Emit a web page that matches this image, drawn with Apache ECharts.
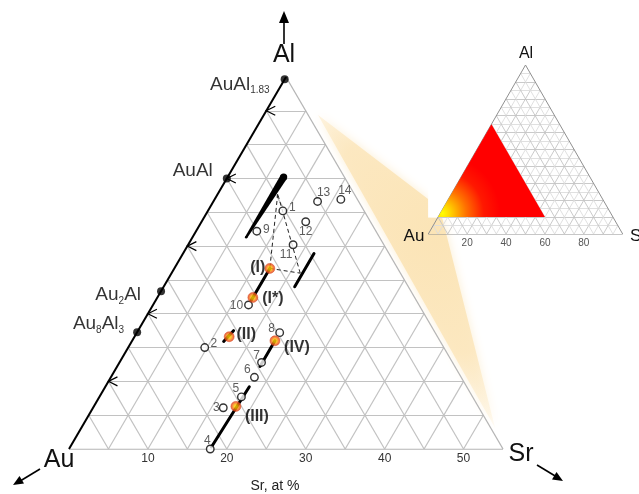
<!DOCTYPE html>
<html>
<head>
<meta charset="utf-8">
<script src="https://cdn.jsdelivr.net/npm/echarts@6/dist/echarts.min.js"></script>
<style>
  html, body { margin: 0; padding: 0; background: #fff; }
  #c { width: 639px; height: 494px; }
</style>
</head>
<body>
<div id="c"></div>
<script>
// ---- Au–Al–Sr section: Sr 0..55 at.%, Al 10..65 at.% ----
const MAIN_AL0 = 10;
const MAIN_SPAN = 55;
const GRID_STEP = 5;
const srTicks = [10, 20, 30, 40, 50];
const insetTicks = [20, 40, 60, 80];
const arrowAl = [20, 30, 40, 50, 60];

// binary Au–Al compounds on the Au–Al edge
const compoundNames = ['AuAl{s|1.83}', 'AuAl', 'Au{s|2}Al', 'Au{s|8}Al{s|3}'];
const compoundAl = [64.66, 50, 33.33, 27.27];

// numbered alloy samples
const sampleNames = ['1', '2', '3', '4', '5', '6', '7', '8', '9', '10', '11', '12', '13', '14'];
const sampleSr = [9.5, 9.7, 16.5, 17.9, 18.0, 18.2, 18.0, 18.1, 7.7, 12.1, 13.3, 13.2, 13.2, 16.0];
const sampleAl = [45.2, 25.0, 16.1, 10.0, 17.7, 20.6, 22.8, 27.2, 42.2, 31.3, 40.2, 43.6, 46.6, 46.9];

// ternary phases
const phaseNames = ['(I)', '(I*)', '(II)', '(III)', '(IV)'];
const phaseSr = [12.1, 12.1, 12.0, 18.0, 18.1];
const phaseAl = [36.7, 32.4, 26.6, 16.3, 26.0];

// homogeneity ranges: start (Sr, Al) -> end (Sr, Al)
const rangeSrA = [16.6, 12.1, 11.65, 18.1, 17.9];
const rangeAlA = [34.0, 32.0, 25.9, 22.2, 10.3];
const rangeSrB = [16.6, 12.1, 12.1, 18.1, 18.25];
const rangeAlB = [38.9, 36.7, 27.5, 26.0, 19.2];

// wedge-shaped range (thin at low Al, thick at high Al)
const taperSr = [6.8, 7.1];
const taperAl = [41.3, 50.2];

// three-phase tie triangle
const tieSr = [7.6, 12.1, 16.3];
const tieAl = [47.7, 36.7, 36.0];

// region of the full diagram shown enlarged: Sr 0..55, Al 10..65
const zoomSr = [0, 55, 0];
const zoomAl = [10, 10, 65];

const FONT = '"Liberation Sans", Arial, Helvetica, sans-serif';
const H = Math.sqrt(3) / 2;
const GREY = '#c2c2c2';

function mainXY(sr, al) { const a = al - MAIN_AL0; return [sr + a / 2, a * H]; }
function insetXY(sr, al) { return [sr + al / 2, al * H]; }

// triangular grid lines of the section
const mainGrid = [];
for (let k = GRID_STEP; k < MAIN_SPAN; k += GRID_STEP) {
  mainGrid.push({ coords: [mainXY(0, MAIN_AL0 + k), mainXY(MAIN_SPAN - k, MAIN_AL0 + k)] });
  mainGrid.push({ coords: [mainXY(k, MAIN_AL0), mainXY(k, MAIN_AL0 + MAIN_SPAN - k)] });
  mainGrid.push({ coords: [mainXY(k, MAIN_AL0), mainXY(0, MAIN_AL0 + k)] });
}
const mainEdgesGrey = [
  { coords: [mainXY(0, MAIN_AL0), mainXY(MAIN_SPAN, MAIN_AL0)] },
  { coords: [mainXY(MAIN_SPAN, MAIN_AL0), mainXY(0, MAIN_AL0 + MAIN_SPAN)] }
];
const mainEdgeLeft = [{ coords: [mainXY(0, MAIN_AL0), mainXY(0, MAIN_AL0 + MAIN_SPAN)] }];

// grid of the full ternary
const insetGrid = [];
for (let k = 5; k < 100; k += 5) {
  const ls = { color: k % 10 ? '#dddddd' : '#c4c4c4' };
  insetGrid.push({ coords: [insetXY(0, k), insetXY(100 - k, k)], lineStyle: ls });
  insetGrid.push({ coords: [insetXY(k, 0), insetXY(k, 100 - k)], lineStyle: ls });
  insetGrid.push({ coords: [insetXY(k, 0), insetXY(0, k)], lineStyle: ls });
}
const insetEdges = [
  { coords: [insetXY(0, 0), insetXY(100, 0)] },
  { coords: [insetXY(100, 0), insetXY(0, 100)] },
  { coords: [insetXY(0, 100), insetXY(0, 0)] }
];

// soft beam linking the section to its place in the full diagram (section units)
const beamX = [31.56, 45.5, 45.5, 47.3, 54.0];
const beamY = [42.76, 32.0, 29.58, 29.58, 2.69];

const sampleOffsets = [[9.5, -3.5], [9, -3.5], [-7, 0], [-3, -8], [-5.5, -8], [-7, -8], [-5, -7],
  [-8, -4], [9.5, -1.5], [-12, 1], [-7, 10], [0, 10], [6, -9], [4, -9]];
const phaseOffsets = [[-12, -1], [20, 1], [17, -2.5], [21, 10], [22, 7]];
const compoundLabelPos = [
  { distance: 11, offset: [0, 5] },
  { distance: 10, offset: [0, -8] },
  { distance: 16, offset: [0, 4] },
  { distance: 9, offset: [0, -8] }
];

const chart = echarts.init(document.getElementById('c'), null, { renderer: 'canvas' });

const phaseFill = {
  type: 'radial', x: 0.5, y: 0.5, r: 0.5,
  colorStops: [
    { offset: 0, color: '#ffe600' },
    { offset: 0.4, color: '#ffb000' },
    { offset: 0.75, color: '#f0561a' },
    { offset: 1, color: '#d9401c' }
  ]
};

const option = {
  animation: false,
  backgroundColor: '#fff',
  grid: [
    { left: 69, top: 77, width: 434, height: 372 },
    { left: 428.3, top: 65, width: 194.4, height: 169 }
  ],
  xAxis: [
    {
      gridIndex: 0, type: 'value', min: 0, max: MAIN_SPAN, interval: 10,
      axisLine: { show: false }, axisTick: { show: false }, splitLine: { show: false },
      axisLabel: {
        margin: 4, color: '#333', fontSize: 12, fontFamily: FONT,
        formatter: v => (srTicks.indexOf(v) >= 0 ? String(v) : '')
      }
    },
    {
      gridIndex: 1, type: 'value', min: 0, max: 100, interval: 20,
      axisLine: { show: false }, axisTick: { show: false }, splitLine: { show: false },
      axisLabel: {
        margin: 4, color: '#555', fontSize: 10, fontFamily: FONT,
        formatter: v => (insetTicks.indexOf(v) >= 0 ? String(v) : '')
      }
    }
  ],
  yAxis: [
    { gridIndex: 0, type: 'value', min: 0, max: MAIN_SPAN * H, show: false },
    { gridIndex: 1, type: 'value', min: 0, max: 100 * H, show: false }
  ],
  series: [
    // beam
    {
      type: 'custom', xAxisIndex: 0, yAxisIndex: 0, z: 1, silent: true,
      data: [[beamX[0], beamY[0]]],
      renderItem: (params, api) => {
        const pts = beamX.map((x, i) => api.coord([x, beamY[i]]));
        return {
          type: 'polygon', shape: { points: pts },
          style: {
            fill: {
              type: 'radial', x: 0.68, y: 0.38, r: 1.25,
              colorStops: [
                { offset: 0, color: 'rgba(251,228,182,1)' },
                { offset: 0.55, color: 'rgba(252,231,190,0.9)' },
                { offset: 0.85, color: 'rgba(253,238,208,0.45)' },
                { offset: 1, color: 'rgba(255,246,228,0)' }
              ]
            },
            shadowBlur: 10, shadowColor: 'rgba(251,230,188,0.7)'
          }
        };
      }
    },
    // white backing of the full diagram
    {
      type: 'custom', xAxisIndex: 1, yAxisIndex: 1, z: 2, silent: true,
      data: [[0, 10 * H]],
      renderItem: (params, api) => {
        const a = api.coord([0, 92]);
        const b = api.coord([110, api.value(1)]);
        return { type: 'rect', shape: { x: a[0], y: a[1], width: b[0] - a[0], height: b[1] - a[1] }, style: { fill: '#fff' } };
      }
    },
    // full diagram grid
    {
      type: 'lines', coordinateSystem: 'cartesian2d', xAxisIndex: 1, yAxisIndex: 1, z: 3, silent: true,
      lineStyle: { width: 0.9, opacity: 1 }, data: insetGrid
    },
    {
      type: 'lines', coordinateSystem: 'cartesian2d', xAxisIndex: 1, yAxisIndex: 1, z: 4, silent: true,
      lineStyle: { width: 1, color: '#8f8f8f', opacity: 1 }, data: insetEdges
    },
    // enlarged region
    {
      type: 'custom', xAxisIndex: 1, yAxisIndex: 1, z: 5, silent: true,
      data: zoomSr.map((s, i) => insetXY(s, zoomAl[i])),
      renderItem: (params, api) => {
        if (params.dataIndex !== 0) return null;
        const pts = zoomSr.map((s, i) => api.coord(insetXY(s, zoomAl[i])));
        return {
          type: 'polygon', shape: { points: pts },
          style: {
            fill: {
              type: 'radial', x: 0.04, y: 0.96, r: 0.62,
              colorStops: [
                { offset: 0, color: '#ffff00' },
                { offset: 0.14, color: '#ffd400' },
                { offset: 0.42, color: '#ff7000' },
                { offset: 0.72, color: '#ff1800' },
                { offset: 1, color: '#ff0000' }
              ]
            }
          }
        };
      }
    },
    // section grid
    {
      type: 'lines', coordinateSystem: 'cartesian2d', xAxisIndex: 0, yAxisIndex: 0, z: 3, silent: true,
      lineStyle: { width: 1.2, color: GREY, opacity: 1 }, data: mainGrid
    },
    {
      type: 'lines', coordinateSystem: 'cartesian2d', xAxisIndex: 0, yAxisIndex: 0, z: 4, silent: true,
      lineStyle: { width: 1.3, color: '#b5b5b5', opacity: 1 }, data: mainEdgesGrey
    },
    {
      type: 'lines', coordinateSystem: 'cartesian2d', xAxisIndex: 0, yAxisIndex: 0, z: 5, silent: true,
      lineStyle: { width: 2, color: '#000', opacity: 1 }, data: mainEdgeLeft
    },
    // reading arrows on the Al axis
    {
      type: 'custom', xAxisIndex: 0, yAxisIndex: 0, z: 5, silent: true,
      data: arrowAl.map(al => mainXY(0, al)),
      renderItem: (params, api) => {
        const p = api.coord([api.value(0), api.value(1)]);
        return {
          type: 'polyline',
          shape: { points: [[p[0] + 9, p[1] - 4.5], [p[0], p[1]], [p[0] + 9, p[1] + 4.5]] },
          style: { stroke: '#000', lineWidth: 1.2, fill: null }
        };
      }
    },
    // tie triangle
    {
      type: 'lines', coordinateSystem: 'cartesian2d', xAxisIndex: 0, yAxisIndex: 0, z: 6, silent: true,
      lineStyle: { width: 1, color: '#222', type: [4, 3], opacity: 1 },
      data: [0, 1, 2].map(i => ({ coords: [mainXY(tieSr[i], tieAl[i]), mainXY(tieSr[(i + 1) % 3], tieAl[(i + 1) % 3])] }))
    },
    // homogeneity ranges
    {
      type: 'lines', coordinateSystem: 'cartesian2d', xAxisIndex: 0, yAxisIndex: 0, z: 7, silent: true,
      lineStyle: { width: 3, color: '#000', opacity: 1, cap: 'round' },
      data: rangeSrA.map((s, i) => ({ coords: [mainXY(s, rangeAlA[i]), mainXY(rangeSrB[i], rangeAlB[i])] }))
    },
    {
      type: 'custom', xAxisIndex: 0, yAxisIndex: 0, z: 7, silent: true,
      data: [[...mainXY(taperSr[0], taperAl[0]), ...mainXY(taperSr[1], taperAl[1])]],
      renderItem: (params, api) => {
        const p0 = api.coord([api.value(0), api.value(1)]);
        const p1 = api.coord([api.value(2), api.value(3)]);
        const dx = p1[0] - p0[0], dy = p1[1] - p0[1], L = Math.hypot(dx, dy);
        const nx = -dy / L, ny = dx / L;
        const w0 = 1.2, w1 = 3.6;
        return {
          type: 'group', children: [
            { type: 'polygon', shape: { points: [[p0[0] + nx * w0, p0[1] + ny * w0], [p1[0] + nx * w1, p1[1] + ny * w1], [p1[0] - nx * w1, p1[1] - ny * w1], [p0[0] - nx * w0, p0[1] - ny * w0]] }, style: { fill: '#000' } },
            { type: 'circle', shape: { cx: p1[0], cy: p1[1], r: w1 }, style: { fill: '#000' } },
            { type: 'circle', shape: { cx: p0[0], cy: p0[1], r: w0 }, style: { fill: '#000' } }
          ]
        };
      }
    },
    // compounds
    {
      type: 'scatter', xAxisIndex: 0, yAxisIndex: 0, z: 8, symbol: 'circle', symbolSize: 8,
      itemStyle: { color: '#000' },
      data: compoundNames.map((n, i) => ({
        value: mainXY(0, compoundAl[i]), name: n,
        label: { distance: compoundLabelPos[i].distance, offset: compoundLabelPos[i].offset }
      })),
      label: {
        show: true, position: 'left', formatter: '{b}',
        color: '#000', fontSize: 19, fontFamily: FONT, lineHeight: 22,
        rich: { s: { fontSize: 10, fontFamily: FONT, color: '#000', lineHeight: 11, verticalAlign: 'bottom' } }
      }
    },
    // samples
    {
      type: 'scatter', xAxisIndex: 0, yAxisIndex: 0, z: 9, symbol: 'circle', symbolSize: 7.5,
      itemStyle: { color: '#fff', borderColor: '#000', borderWidth: 1.4 },
      data: sampleNames.map((n, i) => ({
        value: mainXY(sampleSr[i], sampleAl[i]), name: n,
        label: { offset: sampleOffsets[i] }
      })),
      label: { show: true, position: 'inside', formatter: '{b}', color: '#333', fontSize: 12, fontFamily: FONT }
    },
    // phases
    {
      type: 'scatter', xAxisIndex: 0, yAxisIndex: 0, z: 10, symbol: 'circle', symbolSize: 10,
      itemStyle: { color: phaseFill, borderColor: '#d8481c', borderWidth: 0.6 },
      data: phaseNames.map((n, i) => ({
        value: mainXY(phaseSr[i], phaseAl[i]), name: n,
        label: { offset: phaseOffsets[i] }
      })),
      label: { show: true, position: 'inside', formatter: '{b}', color: '#000', fontSize: 16, fontWeight: 'bold', fontFamily: FONT }
    }
  ],
  graphic: [
    // corner labels of the section
    { type: 'text', z: 20, style: { text: 'Al', x: 284, y: 55, align: 'center', verticalAlign: 'middle', fontSize: 25, fontFamily: FONT, fill: '#111' } },
    { type: 'text', z: 20, style: { text: 'Au', x: 59, y: 460, align: 'center', verticalAlign: 'middle', fontSize: 25, fontFamily: FONT, fill: '#111' } },
    { type: 'text', z: 20, style: { text: 'Sr', x: 521, y: 454, align: 'center', verticalAlign: 'middle', fontSize: 25, fontFamily: FONT, fill: '#111' } },
    { type: 'text', z: 20, style: { text: 'Sr, at %', x: 275, y: 486, align: 'center', verticalAlign: 'middle', fontSize: 14, fontFamily: FONT, fill: '#222' } },
    // direction arrows
    { type: 'line', z: 20, shape: { x1: 284, y1: 44, x2: 284, y2: 22 }, style: { stroke: '#000', lineWidth: 1.6 } },
    { type: 'polygon', z: 20, shape: { points: [[279, 23], [289, 23], [284, 11]] }, style: { fill: '#000' } },
    { type: 'line', z: 20, shape: { x1: 40, y1: 469, x2: 21, y2: 480.5 }, style: { stroke: '#000', lineWidth: 1.6 } },
    { type: 'polygon', z: 20, shape: { points: [[13, 485], [24, 483.5], [19.5, 476]] }, style: { fill: '#000' } },
    { type: 'line', z: 20, shape: { x1: 537, y1: 465, x2: 556, y2: 476.5 }, style: { stroke: '#000', lineWidth: 1.6 } },
    { type: 'polygon', z: 20, shape: { points: [[563, 481], [552, 479.5], [556.5, 472]] }, style: { fill: '#000' } },
    // corner labels of the full diagram
    { type: 'text', z: 20, style: { text: 'Al', x: 526, y: 54, align: 'center', verticalAlign: 'middle', fontSize: 16, fontFamily: FONT, fill: '#111' } },
    { type: 'text', z: 20, style: { text: 'Au', x: 414, y: 236, align: 'center', verticalAlign: 'middle', fontSize: 17, fontFamily: FONT, fill: '#111' } },
    { type: 'text', z: 20, style: { text: 'Sr', x: 630, y: 236, align: 'left', verticalAlign: 'middle', fontSize: 17, fontFamily: FONT, fill: '#111' } }
  ]
};

chart.setOption(option);
</script>
</body>
</html>
